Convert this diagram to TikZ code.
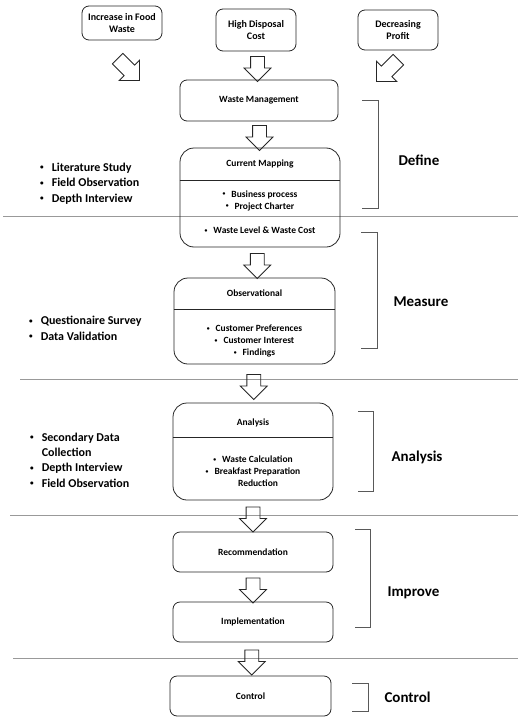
\documentclass[tikz,border=0pt]{standalone}
\usepackage{fontspec}
\setmainfont{Carlito}
\usetikzlibrary{shapes.arrows,calc}

% small bullet used in all the lists
\newcommand\dotmark{\raisebox{0.12em}{\scalebox{0.6}{•}}}

\begin{document}
\begin{tikzpicture}[x=1pt,y=-1pt]

    \tikzset{
      box/.style={
        draw=black!85,
        line width=0.8pt,
        rounded corners=7pt,
        minimum width=160pt,
        minimum height=40pt,
        align=center,
        font=\bfseries\fontsize{9.5}{12}\selectfont,
      },
      bigbox/.style={box, rounded corners=14pt},
      topbox/.style={box, minimum width=80pt, font=\bfseries\fontsize{10}{12}\selectfont},
      txt/.style={inner sep=0pt, align=center, font=\bfseries\fontsize{9.5}{12}\selectfont},
      push/.style={
        draw=black!85,
        line width=0.8pt,
        single arrow,
        single arrow head extend=6.5pt,
        inner sep=6.5pt,
        minimum height=25pt,
      },
      slant/.style={push, minimum height=31pt, inner sep=7pt, single arrow head extend=7pt},
      sep/.style={black!40, line width=0.7pt},
      bracket/.style={black!65, line width=0.7pt},
      phase/.style={anchor=west, font=\bfseries\fontsize{15}{18}\selectfont},
      method/.style={anchor=west, inner sep=0pt, align=left, font=\bfseries\fontsize{12}{15.4}\selectfont},
    }
    \useasboundingbox (0,0) rectangle (518,717);

	% separators between the phases
	\foreach \y/\x in {216/3, 379/20, 515/10, 658/13}
	  \draw[sep] (\x,\y) -- (518,\y);

	% causes
	\node[topbox, minimum height=34pt] (food) at (122,23) {Increase in Food\\Waste};
	\node[topbox, minimum height=42pt] (cost) at (256,30) {High Disposal\\Cost};
	\node[topbox, minimum height=40pt] (profit) at (398,30) {Decreasing\\Profit};

	% main flow
	\node[box, minimum width=158pt, minimum height=41pt] (wm) at (259,100.5) {Waste Management};
	\node[bigbox, minimum height=99pt] (cm) at (260,197.5) {};
	\node[bigbox, minimum width=161pt, minimum height=86pt] (obs) at (254.5,321) {};
	\node[bigbox, minimum height=97pt] (ana) at (253,451.5) {};
	\node[box] (rec) at (253,552) {Recommendation};
	\node[box] (imp) at (253,622) {Implementation};
	\node[box, minimum width=161pt] (ctl) at (250.5,696) {Control};

	\draw[line width=0.8pt, black!85] (cm.west |- 0,180) -- (cm.east |- 0,180);
	\draw[line width=0.8pt, black!85] (obs.west |- 0,309) -- (obs.east |- 0,309);
	\draw[line width=0.8pt, black!85] (ana.west |- 0,437) -- (ana.east |- 0,437);

	\node[txt] (cmtitle) at (260,164) {Current Mapping};
	\node[txt] (cmlist) at (260,200.5) {\dotmark\hspace{6pt}Business process\\\dotmark\hspace{6pt}Project Charter};
	\node[txt] (cmcost) at (260,230) {\dotmark\hspace{6pt}Waste Level \& Waste Cost};
	\node[txt] (obstitle) at (254.5,293) {Observational};
	\node[txt] (obslist) at (254.5,341) {\dotmark\hspace{6pt}Customer Preferences\\\dotmark\hspace{6pt}Customer Interest\\\dotmark\hspace{6pt}Findings};
	\node[txt] (anatitle) at (253,423) {Analysis};
	\node[txt] (analist) at (253,471) {\dotmark\hspace{6pt}Waste Calculation\\\dotmark\hspace{6pt}Breakfast Preparation\\\hspace{10pt}Reduction};

	% block arrows
	\node[slant, rotate=-45] (in1) at (126,67) {};
	\node[push, rotate=-90] (in2) at ($(cost.south)!0.5!(wm.north)$) {};
	\node[slant, rotate=-135] (in3) at (390,68) {};
	\foreach \a/\b in {wm/cm, cm/obs, obs/ana, ana/rec, rec/imp, imp/ctl}
	  \node[push, rotate=-90] (\a-\b) at ($(\a.south)!0.5!(\b.north)$) {};

	% phases
	\draw[bracket] (362,100) -| (378,208) -- (362,208);
	\draw[bracket] (361,232) -| (377,348) -- (361,348);
	\draw[bracket] (358,411) -| (373,491) -- (358,491);
	\draw[bracket] (355,529) -| (370,627) -- (355,627);
	\draw[bracket] (352,683) -| (368,711) -- (352,711);
	\node[phase] (define) at (395,160) {Define};
	\node[phase] (measure) at (390,302) {Measure};
	\node[phase] (analyse) at (388,457) {Analysis};
	\node[phase] (improve) at (384,593) {Improve};
	\node[phase] (control) at (381,697) {Control};

	% methods
	\node[method] (m1) at (40,183.5) {\dotmark\hspace{8pt}Literature Study\\\dotmark\hspace{8pt}Field Observation\\\dotmark\hspace{8pt}Depth Interview};
	\node[method] (m2) at (29,328.5) {\dotmark\hspace{8pt}Questionaire Survey\\\dotmark\hspace{8pt}Data Validation};
	\node[method] (m3) at (30,460) {\dotmark\hspace{8pt}Secondary Data\\\hphantom{\dotmark}\hspace{8pt}Collection\\\dotmark\hspace{8pt}Depth Interview\\\dotmark\hspace{8pt}Field Observation};

\end{tikzpicture}
\end{document}
